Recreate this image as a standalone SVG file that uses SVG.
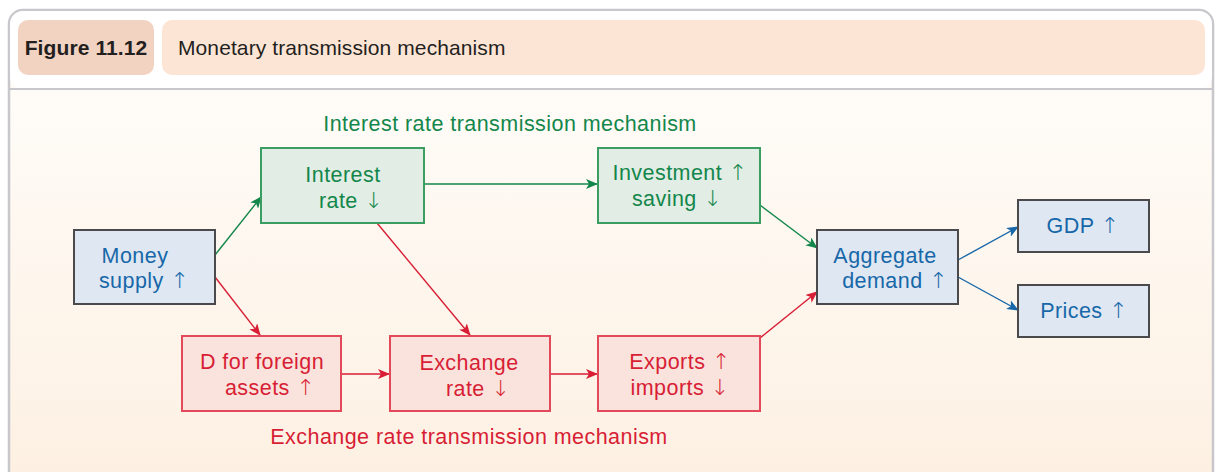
<svg xmlns="http://www.w3.org/2000/svg" width="1218" height="472" viewBox="0 0 1218 472">
<defs>
<linearGradient id="bg" x1="0" y1="0" x2="0" y2="1">
<stop offset="0" stop-color="#fffefc"/>
<stop offset="1" stop-color="#fdf0e2"/>
</linearGradient>
<marker id="ag" viewBox="0 0 12 10" refX="11" refY="5" markerWidth="12" markerHeight="10" markerUnits="userSpaceOnUse" orient="auto"><path d="M0,0 L12,5 L0,10 L3,5 Z" fill="#13874b"/></marker>
<marker id="ar" viewBox="0 0 12 10" refX="11" refY="5" markerWidth="12" markerHeight="10" markerUnits="userSpaceOnUse" orient="auto"><path d="M0,0 L12,5 L0,10 L3,5 Z" fill="#d81e35"/></marker>
<marker id="ab" viewBox="0 0 12 10" refX="11" refY="5" markerWidth="12" markerHeight="10" markerUnits="userSpaceOnUse" orient="auto"><path d="M0,0 L12,5 L0,10 L3,5 Z" fill="#1767a9"/></marker>
</defs>
<style>
text{font-family:"Liberation Sans",Arial,sans-serif;font-size:21.5px;letter-spacing:0.45px;text-anchor:middle}
.ar{font-family:"DejaVu Sans",sans-serif;font-size:22px;font-weight:200}
.hd{font-size:21px;letter-spacing:0.1px;fill:#231f20}
.blue rect{fill:#dfe7f2;stroke:#4a4a4c;stroke-width:2}
.blue text{fill:#1767a9}
.green rect{fill:#e2ede5;stroke:#3a9d62;stroke-width:2}
.green text{fill:#13874b}
.red rect{fill:#f9e3dc;stroke:#e24a5b;stroke-width:2}
.red text{fill:#d81e35}
.c{fill:none;stroke-width:1.4}
.cg{stroke:#13874b}
.cr{stroke:#d81e35}
.cb{stroke:#1767a9}
</style>
<rect x="9" y="10" width="1204" height="480" rx="14" fill="url(#bg)" stroke="#c8c8cc" stroke-width="2.5"/>
<rect x="10" y="11" width="1202" height="78" rx="13" fill="#ffffff"/>
<line x1="9" y1="89" x2="1213" y2="89" stroke="#c8c8cc" stroke-width="2"/>
<g id="header">
<rect x="18" y="20" width="136" height="55" rx="10" fill="#f2d3c2"/>
<text class="hd" x="86" y="55" style="font-weight:bold">Figure 11.12</text>
<rect x="162" y="20" width="1043" height="55" rx="10" fill="#fde5d6"/>
<text class="hd" x="178" y="55" style="text-anchor:start">Monetary transmission mechanism</text>
</g>
<text id="lbl-interest" x="510" y="131" style="fill:#13874b">Interest rate transmission mechanism</text>
<text id="lbl-exchange" x="469" y="444" style="fill:#d81e35">Exchange rate transmission mechanism</text>
<g id="connectors">
<line class="c cg" x1="215" y1="255" x2="261" y2="197" marker-end="url(#ag)"/>
<line class="c cr" x1="215" y1="277" x2="260" y2="335" marker-end="url(#ar)"/>
<line class="c cg" x1="424" y1="184" x2="597" y2="184" marker-end="url(#ag)"/>
<line class="c cr" x1="377" y1="223" x2="470" y2="335" marker-end="url(#ar)"/>
<line class="c cr" x1="341" y1="374" x2="389" y2="374" marker-end="url(#ar)"/>
<line class="c cr" x1="550" y1="374" x2="597" y2="374" marker-end="url(#ar)"/>
<line class="c cg" x1="760" y1="205" x2="817" y2="248" marker-end="url(#ag)"/>
<line class="c cr" x1="760" y1="338" x2="817" y2="292" marker-end="url(#ar)"/>
<line class="c cb" x1="958" y1="260" x2="1018" y2="227" marker-end="url(#ab)"/>
<line class="c cb" x1="958" y1="277" x2="1018" y2="310" marker-end="url(#ab)"/>
</g>
<g id="money" class="blue"><rect x="74" y="230" width="141" height="74"/><text x="135" y="263">Money</text><text x="144" y="288">supply <tspan class="ar">↑</tspan></text></g>
<g id="interest" class="green"><rect x="261" y="148" width="163" height="75"/><text x="343" y="182">Interest</text><text x="351" y="208">rate <tspan class="ar">↓</tspan></text></g>
<g id="investment" class="green"><rect x="598" y="148" width="162" height="75"/><text x="680" y="180">Investment <tspan class="ar">↑</tspan></text><text x="677" y="206">saving <tspan class="ar">↓</tspan></text></g>
<g id="aggregate" class="blue"><rect x="817" y="230" width="141" height="74"/><text x="885" y="263">Aggregate</text><text x="895" y="288">demand <tspan class="ar">↑</tspan></text></g>
<g id="gdp" class="blue"><rect x="1018" y="200" width="131" height="52"/><text x="1083" y="233">GDP <tspan class="ar">↑</tspan></text></g>
<g id="prices" class="blue"><rect x="1018" y="285" width="131" height="52"/><text x="1084" y="318">Prices <tspan class="ar">↑</tspan></text></g>
<g id="dforeign" class="red"><rect x="182" y="336" width="159" height="75"/><text x="262" y="369">D for foreign</text><text x="270" y="395">assets <tspan class="ar">↑</tspan></text></g>
<g id="exchange" class="red"><rect x="390" y="336" width="160" height="75"/><text x="469" y="370">Exchange</text><text x="478" y="396">rate <tspan class="ar">↓</tspan></text></g>
<g id="exports" class="red"><rect x="598" y="336" width="162" height="75"/><text x="680" y="369">Exports <tspan class="ar">↑</tspan></text><text x="680" y="395">imports <tspan class="ar">↓</tspan></text></g>
</svg>
